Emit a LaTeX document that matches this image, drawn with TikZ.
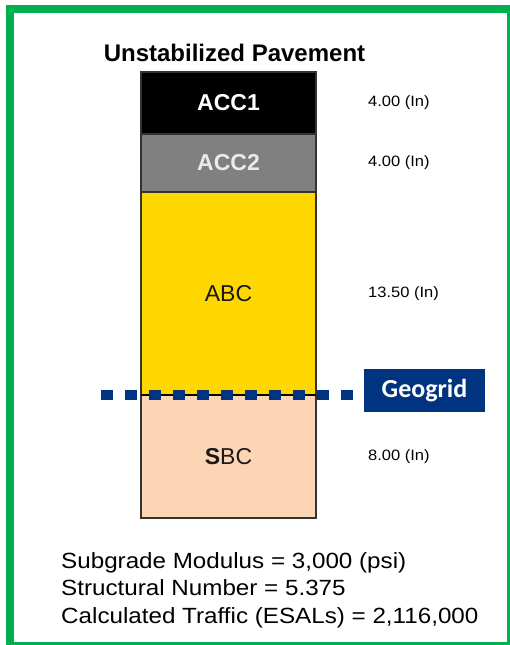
\documentclass[tikz,border=0pt]{standalone}
\usepackage{fontspec}
\setmainfont{Liberation Sans}
\newfontfamily\calibri{Carlito}
\newfontfamily\wide[FakeStretch=1.1]{Liberation Sans}
\usepackage{xcolor}
\usetikzlibrary{positioning}

\definecolor{accgray}{HTML}{808080}
\definecolor{abcgold}{HTML}{FFD700}
\definecolor{sbcpeach}{HTML}{FCD5B4}
\definecolor{gridblue}{HTML}{003380}
\definecolor{framegreen}{HTML}{00B050}

\begin{document}
\begin{tikzpicture}[
  x=1pt, y=-1pt,
  node distance=0pt,
  layer/.style={draw=black!80, line width=1.2pt, minimum width=175pt, inner sep=0pt, outer sep=0pt, font=\fontsize{23}{27}\selectfont},
  inch/.style={inner sep=0pt, font=\wide\fontsize{15}{18}\selectfont},
  grid/.style={line width=10pt, draw=gridblue, dash pattern=on 12pt off 12pt}
]
\useasboundingbox (0,0) rectangle (510,645);
\draw[line width=8pt, framegreen] (10,9) rectangle (511,646);

\node[anchor=base, inner sep=0pt, font=\bfseries\fontsize{24}{28}\selectfont] (title) at (234.5,61) {Unstabilized Pavement};

% pavement layers, top to bottom
\node[layer, fill=black, text=white, minimum height=62pt] (acc1) at (228.5,103) {\textbf{ACC1}};
\node[layer, fill=accgray, text=black!8, minimum height=58pt, below=of acc1] (acc2) {\textbf{ACC2}};
\node[layer, fill=abcgold, text=black!90, minimum height=203pt, below=of acc2] (abc) {ABC};
\node[layer, fill=sbcpeach, text=black!90, minimum height=123pt, below=of abc] (sbc) {\textbf{S}BC};
\draw[line width=2.5pt] (abc.south west) -- (abc.south east);

\node[inch, right=52pt of acc1] (t1) {4.00 (In)};
\node[inch, right=52pt of acc2] (t2) {4.00 (In)};
\node[inch, right=52pt of abc] (t3) {13.50 (In)};
\node[inch, right=52pt of sbc] (t4) {8.00 (In)};

% geogrid
\node[fill=gridblue, text=white, minimum width=121pt, minimum height=43pt, inner sep=0pt, font=\calibri\bfseries\fontsize{26}{30}\selectfont] (geo) at (424.5,390.5) {Geogrid};
\coordinate (g0) at (101,394.5);
\coordinate (g1) at (353,394.5);
\draw[grid] (g0) -- (g1);

\node[anchor=north west, align=left, inner sep=0pt, font=\wide\fontsize{22}{27.5}\selectfont] (info) at (61,552) {Subgrade Modulus = 3,000 (psi)\\Structural Number = 5.375\\Calculated Traffic (ESALs) = 2,116,000};
\end{tikzpicture}
\end{document}
